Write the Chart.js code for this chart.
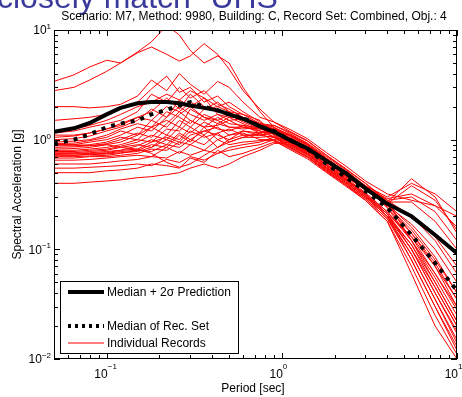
<!DOCTYPE html>
<html>
<head>
<meta charset="utf-8">
<script src="https://cdn.jsdelivr.net/npm/chart.js@4.4.1/dist/chart.umd.min.js"></script>
<style>
  body { margin: 0; background: #fff; }
  canvas { display: block; }
</style>
</head>
<body>
<canvas id="myChart" width="462" height="397"></canvas>
<script>
// periods [sec]
const periods = [0.05, 0.065, 0.08, 0.1, 0.12, 0.15, 0.18, 0.22, 0.26, 0.3, 0.36, 0.43, 0.5,
    0.6, 0.75, 0.9, 1.1, 1.4, 1.8, 2.3, 3, 4, 5.5, 7.5, 10];

const medianPlus2Sigma = [1.18, 1.27, 1.42, 1.7, 1.95, 2.15, 2.2, 2.2, 2.15, 2.05, 1.95, 1.85, 1.7,
    1.55, 1.32, 1.18, 1.0, 0.83, 0.64, 0.5, 0.36, 0.26, 0.2, 0.135, 0.092];

const medianRecSet = [0.92, 1.0, 1.12, 1.3, 1.4, 1.5, 1.7, 1.87, 2.05, 2.2, 2.0, 1.85, 1.7,
    1.58, 1.32, 1.2, 1.0, 0.82, 0.6, 0.46, 0.34, 0.24, 0.135, 0.075, 0.042];

// individual records, same periods
const records = [
    [3.4, 3.9, 4.6, 5.3, 5.0, 6.2, 7.0, 6.0, 5.2, 5.8, 7.5, 6.0, 4.4, 2.8, 1.9, 1.45, 1.2, 0.98, 0.72, 0.55, 0.4, 0.27, 0.12, 0.05, 0.022],
    [2.8, 3.0, 3.5, 4.2, 5.0, 6.3, 7.8, 11, 9.0, 6.5, 5.0, 5.8, 5.0, 3.0, 1.8, 1.3, 1.0, 0.75, 0.55, 0.42, 0.31, 0.2, 0.09, 0.035, 0.015],
    [2.0, 2.0, 1.95, 2.0, 2.1, 2.5, 3.5, 2.8, 4.0, 3.2, 2.6, 3.4, 3.0, 2.2, 1.6, 1.45, 1.25, 1.02, 0.76, 0.58, 0.42, 0.32, 0.28, 0.25, 0.2],
    [1.5, 1.55, 1.6, 1.7, 1.9, 2.2, 2.9, 3.8, 2.7, 3.0, 2.2, 2.5, 2.0, 1.7, 1.4, 1.2, 0.95, 0.78, 0.58, 0.44, 0.32, 0.21, 0.1, 0.04, 0.018],
    [1.15, 1.2, 1.3, 1.4, 1.5, 1.8, 2.6, 2.2, 3.0, 2.4, 2.8, 2.1, 1.9, 1.6, 1.4, 1.3, 1.1, 0.9, 0.66, 0.5, 0.37, 0.27, 0.2, 0.12, 0.06],
    [1.1, 1.1, 1.15, 1.25, 1.4, 1.6, 1.8, 2.4, 1.9, 2.6, 2.0, 1.8, 1.75, 1.5, 1.4, 1.35, 1.15, 0.93, 0.7, 0.53, 0.38, 0.26, 0.14, 0.07, 0.03],
    [1.0, 1.02, 1.08, 1.2, 1.3, 1.5, 1.9, 1.6, 2.3, 2.0, 2.4, 1.7, 1.6, 1.6, 1.4, 1.25, 1.05, 0.86, 0.65, 0.49, 0.38, 0.3, 0.4, 0.32, 0.22],
    [0.95, 0.97, 1.0, 1.1, 1.25, 1.4, 1.3, 1.8, 1.6, 1.4, 1.9, 2.2, 1.8, 1.5, 1.3, 1.05, 0.86, 0.7, 0.52, 0.4, 0.29, 0.19, 0.08, 0.03, 0.012],
    [0.92, 0.93, 0.98, 1.05, 1.2, 1.1, 1.5, 1.3, 1.7, 2.0, 1.6, 1.5, 1.7, 1.45, 1.25, 1.15, 1.0, 0.84, 0.62, 0.47, 0.36, 0.27, 0.44, 0.3, 0.14],
    [0.9, 0.9, 0.95, 1.0, 1.1, 1.3, 1.2, 1.6, 2.0, 1.7, 1.5, 1.7, 1.5, 1.55, 1.35, 1.25, 1.08, 0.88, 0.66, 0.5, 0.37, 0.24, 0.12, 0.055, 0.025],
    [0.88, 0.88, 0.9, 0.95, 1.05, 1.0, 1.3, 1.5, 1.3, 1.9, 1.6, 1.4, 1.6, 1.4, 1.2, 1.05, 0.88, 0.72, 0.53, 0.41, 0.3, 0.2, 0.11, 0.045, 0.02],
    [0.85, 0.86, 0.88, 0.92, 1.0, 1.15, 1.05, 1.4, 1.8, 1.5, 1.3, 1.6, 1.4, 1.35, 1.28, 1.15, 1.03, 0.85, 0.63, 0.47, 0.35, 0.25, 0.17, 0.1, 0.05],
    [0.82, 0.83, 0.85, 0.9, 0.95, 1.1, 1.3, 1.1, 1.5, 1.3, 1.7, 1.5, 1.3, 1.3, 1.2, 1.12, 0.95, 0.78, 0.58, 0.44, 0.32, 0.21, 0.13, 0.06, 0.028],
    [0.8, 0.8, 0.82, 0.85, 0.9, 1.0, 0.95, 1.25, 1.2, 1.5, 1.3, 1.35, 1.5, 1.3, 1.25, 1.28, 1.12, 0.92, 0.68, 0.51, 0.38, 0.27, 0.27, 0.18, 0.1],
    [0.78, 0.78, 0.8, 0.82, 0.87, 0.95, 1.1, 1.0, 1.3, 1.15, 1.45, 1.25, 1.2, 1.35, 1.15, 0.98, 0.82, 0.67, 0.5, 0.38, 0.28, 0.18, 0.07, 0.025, 0.011],
    [0.76, 0.76, 0.78, 0.8, 0.85, 0.9, 0.85, 1.1, 1.0, 1.3, 1.1, 1.4, 1.3, 1.25, 1.3, 1.35, 1.18, 0.97, 0.72, 0.54, 0.4, 0.28, 0.2, 0.13, 0.07],
    [0.75, 0.75, 0.76, 0.78, 0.8, 0.88, 1.0, 0.9, 1.15, 1.0, 1.2, 1.3, 1.1, 1.2, 1.1, 1.05, 0.9, 0.74, 0.55, 0.41, 0.3, 0.2, 0.1, 0.04, 0.017],
    [0.74, 0.74, 0.75, 0.76, 0.8, 0.82, 0.95, 1.05, 0.95, 1.2, 1.05, 1.15, 1.25, 1.1, 1.1, 1.15, 0.98, 0.8, 0.6, 0.46, 0.35, 0.26, 0.38, 0.28, 0.15],
    [0.73, 0.72, 0.74, 0.75, 0.78, 0.8, 0.9, 0.85, 1.1, 0.95, 1.3, 1.0, 1.1, 1.15, 1.0, 1.0, 0.86, 0.7, 0.52, 0.39, 0.29, 0.19, 0.09, 0.035, 0.014],
    [0.72, 0.72, 0.73, 0.74, 0.76, 0.78, 0.85, 1.0, 0.9, 1.1, 1.2, 1.1, 1.0, 1.2, 1.15, 1.22, 1.05, 0.86, 0.64, 0.48, 0.36, 0.26, 0.16, 0.085, 0.04],
    [0.7, 0.7, 0.71, 0.72, 0.75, 0.8, 0.78, 0.9, 0.85, 1.0, 0.9, 1.15, 0.95, 1.05, 1.05, 1.08, 0.92, 0.75, 0.56, 0.43, 0.31, 0.21, 0.11, 0.05, 0.022],
    [0.68, 0.68, 0.7, 0.7, 0.72, 0.75, 0.82, 0.8, 0.95, 0.9, 1.1, 0.85, 1.0, 1.1, 1.1, 1.2, 1.1, 0.9, 0.67, 0.5, 0.37, 0.28, 0.3, 0.22, 0.12],
    [0.65, 0.65, 0.66, 0.68, 0.7, 0.72, 0.7, 0.85, 0.75, 0.9, 0.8, 1.0, 0.9, 0.95, 0.98, 0.98, 0.84, 0.69, 0.51, 0.39, 0.28, 0.18, 0.06, 0.02, 0.01],
    [0.6, 0.6, 0.6, 0.62, 0.64, 0.66, 0.7, 0.68, 0.78, 0.72, 0.8, 0.75, 0.85, 0.9, 0.95, 1.05, 0.97, 0.8, 0.59, 0.45, 0.33, 0.22, 0.12, 0.06, 0.03],
    [0.55, 0.55, 0.56, 0.57, 0.58, 0.6, 0.58, 0.66, 0.62, 0.7, 0.65, 0.75, 0.8, 0.85, 0.9, 1.0, 0.98, 0.83, 0.62, 0.47, 0.35, 0.25, 0.15, 0.08, 0.04],
    [0.5, 0.5, 0.5, 0.52, 0.53, 0.55, 0.6, 0.58, 0.55, 0.68, 0.62, 0.8, 0.7, 0.75, 0.85, 0.95, 0.9, 0.73, 0.54, 0.41, 0.3, 0.2, 0.08, 0.03, 0.013],
    [0.4, 0.4, 0.41, 0.42, 0.43, 0.45, 0.46, 0.48, 0.5, 0.55, 0.6, 0.55, 0.6, 0.7, 0.8, 0.92, 0.95, 0.78, 0.58, 0.44, 0.32, 0.22, 0.13, 0.07, 0.035],
    [0.9, 0.9, 0.88, 0.9, 0.85, 0.82, 0.75, 0.62, 0.56, 0.6, 0.72, 0.85, 0.95, 1.05, 1.15, 1.25, 1.12, 0.9, 0.67, 0.51, 0.37, 0.24, 0.14, 0.075, 0.035],
    [1.2, 1.25, 1.35, 1.5, 1.7, 2.0, 2.2, 2.6, 2.3, 2.8, 2.4, 2.0, 2.2, 1.8, 1.45, 1.2, 1.0, 0.83, 0.62, 0.48, 0.37, 0.29, 0.32, 0.25, 0.16],
    [1.05, 1.08, 1.15, 1.25, 1.35, 1.6, 1.5, 2.0, 1.8, 2.2, 1.9, 2.0, 1.8, 1.7, 1.5, 1.1, 0.93, 0.76, 0.56, 0.43, 0.31, 0.21, 0.1, 0.045, 0.02]
];

const xTickExps = [-1, 0, 1];
const yTickExps = [-2, -1, 0, 1];
const legendLabels = ['Median + 2\u03C3 Prediction', 'Median of Rec. Set', 'Individual Records'];

const FONT = '"Liberation Sans", Arial, sans-serif';

function toPoints(vals) {
    return vals.map((v, i) => ({ x: periods[i], y: v }));
}

const datasets = [
    {
        label: legendLabels[0],
        data: toPoints(medianPlus2Sigma),
        borderColor: '#000',
        borderWidth: 4
    },
    {
        label: legendLabels[1],
        data: toPoints(medianRecSet),
        borderColor: '#000',
        borderWidth: 4,
        borderDash: [4, 6]
    }
];
records.forEach((r, i) => {
    datasets.push({
        label: i === 0 ? legendLabels[2] : '',
        data: toPoints(r),
        borderColor: '#ff0000',
        borderWidth: 1
    });
});

// matlab style box, ticks, labels, legend
const matlabFrame = {
    id: 'matlabFrame',
    afterDraw(chart) {
        const c = chart.ctx;
        const a = chart.chartArea;
        const xs = chart.scales.x, ys = chart.scales.y;
        c.save();

        // slide heading (cut off at the top)
        c.fillStyle = '#3a3a9c';
        c.font = '32px ' + FONT;
        c.textAlign = 'left';
        c.textBaseline = 'alphabetic';
        c.fillText('closely match\u201D UHS', -3, 8);

        c.strokeStyle = '#000';
        c.lineWidth = 1;
        c.strokeRect(a.left + 0.5, a.top + 0.5, a.right - a.left - 1, a.bottom - a.top - 1);

        c.beginPath();
        // y ticks
        for (let e = -2; e <= 1; e++) {
            for (let k = 1; k <= 9; k++) {
                const v = k * Math.pow(10, e);
                if (v > 10.0001) break;
                const y = Math.round(ys.getPixelForValue(v)) + 0.5;
                const len = k === 1 ? 6 : 4;
                c.moveTo(a.left, y); c.lineTo(a.left + len, y);
                c.moveTo(a.right, y); c.lineTo(a.right - len, y);
            }
        }
        // x ticks
        for (let e = -2; e <= 1; e++) {
            for (let k = 1; k <= 9; k++) {
                const v = k * Math.pow(10, e);
                if (v < 0.0499 || v > 10.0001) continue;
                const x = Math.round(xs.getPixelForValue(v)) + 0.5;
                const len = k === 1 ? 6 : 4;
                c.moveTo(x, a.bottom); c.lineTo(x, a.bottom - len);
                c.moveTo(x, a.top); c.lineTo(x, a.top + len);
            }
        }
        c.stroke();

        // tick labels 10^n
        c.fillStyle = '#000';
        yTickExps.forEach(e => {
            const y = ys.getPixelForValue(Math.pow(10, e));
            const ex = String(e).replace('-', '\u2212');
            c.font = '8px ' + FONT;
            const ew = c.measureText(ex).width;
            c.textAlign = 'left';
            c.textBaseline = 'alphabetic';
            c.fillText(ex, a.left - 3 - ew, y - 1);
            c.font = '12px ' + FONT;
            c.textAlign = 'right';
            c.textBaseline = 'middle';
            c.fillText('10', a.left - 3 - ew, y + 1);
        });
        xTickExps.forEach(e => {
            const x = xs.getPixelForValue(Math.pow(10, e));
            const ex = String(e).replace('-', '\u2212');
            c.font = '12px ' + FONT;
            c.textAlign = 'right';
            c.textBaseline = 'alphabetic';
            c.fillText('10', x + 1, a.bottom + 19);
            c.font = '8px ' + FONT;
            c.textAlign = 'left';
            c.fillText(ex, x + 1, a.bottom + 10);
        });

        // titles
        c.font = '12px ' + FONT;
        c.textAlign = 'center';
        c.textBaseline = 'alphabetic';
        c.fillText('Scenario: M7, Method: 9980, Building: C, Record Set: Combined, Obj.: 4', 254, 20);
        c.fillText('Period [sec]', 253, 392);
        c.save();
        c.translate(21, (a.top + a.bottom) / 2);
        c.rotate(-Math.PI / 2);
        c.fillText('Spectral Acceleration [g]', 0, 0);
        c.restore();

        // legend box
        const lx = 60, ly = 281, lw = 178, lh = 72;
        c.fillStyle = '#fff';
        c.fillRect(lx, ly, lw, lh);
        c.strokeStyle = '#000';
        c.lineWidth = 1;
        c.strokeRect(lx + 0.5, ly + 0.5, lw, lh);
        const rows = [
            { ds: datasets[0], y: 292 },
            { ds: datasets[1], y: 326 },
            { ds: datasets[2], y: 343 }
        ];
        rows.forEach(r => {
            c.beginPath();
            c.strokeStyle = r.ds.borderColor;
            c.lineWidth = r.ds.borderWidth;
            c.setLineDash(r.ds.borderDash ? [3, 4] : []);
            c.moveTo(68, r.y);
            c.lineTo(104, r.y);
            c.stroke();
            c.setLineDash([]);
            c.fillStyle = '#000';
            c.font = '12px ' + FONT;
            c.textAlign = 'left';
            c.textBaseline = 'middle';
            c.fillText(r.ds.label, 107, r.y + 1);
        });

        c.restore();
    }
};

const ctx = document.getElementById('myChart');
const myChart = new Chart(ctx, {
    type: 'line',
    data: { datasets: datasets },
    options: {
        responsive: false,
        animation: false,
        events: [],
        layout: { padding: { left: 54, right: 5, top: 30, bottom: 38 } },
        elements: {
            point: { radius: 0 },
            line: { tension: 0, borderCapStyle: 'butt', borderJoinStyle: 'round' }
        },
        plugins: {
            legend: { display: false },
            tooltip: { enabled: false }
        },
        scales: {
            x: {
                type: 'logarithmic',
                min: 0.05,
                max: 10,
                display: false
            },
            y: {
                type: 'logarithmic',
                min: 0.01,
                max: 10,
                display: false
            }
        }
    },
    plugins: [matlabFrame]
});
</script>
</body>
</html>
